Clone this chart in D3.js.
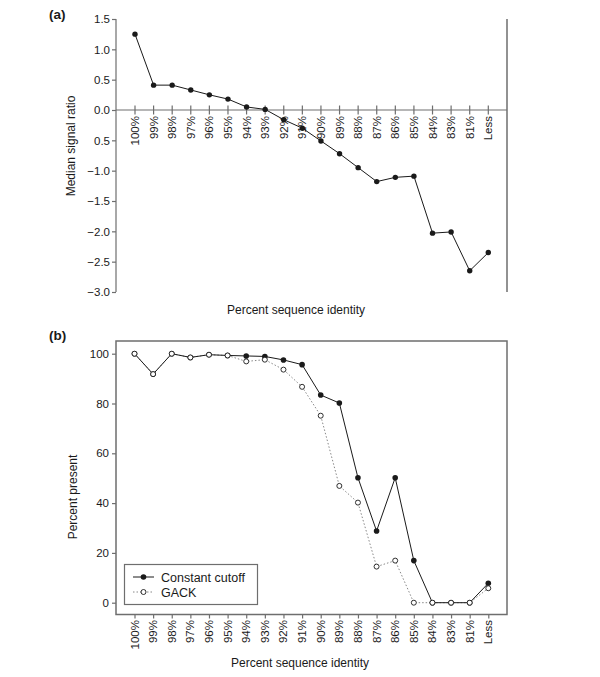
<!DOCTYPE html>
<html>
<head>
<meta charset="utf-8">
<script src="https://cdn.jsdelivr.net/npm/d3@7"></script>
<style>
  body { margin: 0; background: #fff; }
  svg { display: block; font-family: "Liberation Sans", Arial, sans-serif; }
</style>
</head>
<body>
<svg id="chart" width="600" height="677"></svg>
<script>
// ---- data ----
const categories = ["100%","99%","98%","97%","96%","95%","94%","93%","92%","91%","90%","89%","88%","87%","86%","85%","84%","83%","81%","Less"];
const medianSignalRatio = [1.25,0.41,0.41,0.33,0.25,0.18,0.05,0.01,-0.16,-0.30,-0.51,-0.72,-0.95,-1.18,-1.11,-1.09,-2.03,-2.01,-2.65,-2.35];
const constantCutoff = [100,91.8,100,98.5,99.6,99.3,99.1,98.9,97.5,95.6,83.4,80.2,50.2,28.8,50.2,16.9,0,0,0,7.8];
const gack = [100,91.8,100,98.5,99.6,99.3,96.9,97.6,93.6,86.7,75.1,46.9,40.2,14.5,16.9,0,0,0,0,5.8];
const aTickValues = [1.5,1.0,0.5,0.0,-0.5,-1.0,-1.5,-2.0,-2.5,-3.0];
const aTickLabels = ["1.5","1.0","0.5","0.0","0.5","\u22121.0","\u22121.5","\u22122.0","\u22122.5","\u22123.0"];
const bTickValues = [0,20,40,60,80,100];
const seriesNames = ["Constant cutoff","GACK"];

const svg = d3.select("#chart");
const ink = "#1a1a1a", axisCol = "#6e6e6e";

// ---------- Panel (a) ----------
const ax = d3.scalePoint().domain(categories).range([135, 488.3]);
const ay = d3.scaleLinear().domain([-3, 1.5]).range([292, 19]);
const ga = svg.append("g");

ga.append("text").attr("x", 49).attr("y", 19).attr("font-size", 13.5).attr("font-weight", "bold").attr("fill", ink).text("(a)");

// left y axis
const yAxisA = d3.axisLeft(ay).tickValues(aTickValues).tickFormat((d, i) => aTickLabels[i]).tickSize(4).tickPadding(2);
const gya = ga.append("g").attr("transform", "translate(116,0)").call(yAxisA);
gya.select(".domain").attr("stroke", axisCol).attr("stroke-width", 1.2).attr("d", `M0,${ay(1.5)}V${ay(-3)}`);
gya.selectAll(".tick line").attr("stroke", axisCol).attr("stroke-width", 1.2);
gya.selectAll(".tick text").attr("fill", ink).attr("font-size", 11.5).attr("font-family", "Liberation Sans, Arial, sans-serif");

// right vertical line
ga.append("line").attr("x1", 507).attr("x2", 507).attr("y1", ay(1.5)).attr("y2", ay(-3)).attr("stroke", axisCol).attr("stroke-width", 1.5);

// x axis at zero
const gxa = ga.append("g").attr("transform", `translate(0,${ay(0)})`);
gxa.append("line").attr("x1", 116).attr("x2", 507).attr("stroke", axisCol).attr("stroke-width", 1.2);
gxa.selectAll("line.tk").data(categories).join("line").attr("class", "tk")
  .attr("x1", d => ax(d)).attr("x2", d => ax(d)).attr("y1", -4.5).attr("y2", 4.5)
  .attr("stroke", axisCol).attr("stroke-width", 1.2);
gxa.selectAll("text").data(categories).join("text")
  .attr("transform", d => `translate(${ax(d) + 4},6) rotate(-90)`)
  .attr("text-anchor", "end").attr("font-size", 11.5).attr("fill", ink).text(d => d);

// line & points
const lineA = d3.line().x((d, i) => ax(categories[i])).y(d => ay(d));
ga.append("path").datum(medianSignalRatio).attr("d", lineA).attr("fill", "none").attr("stroke", ink).attr("stroke-width", 1);
ga.selectAll("circle").data(medianSignalRatio).join("circle")
  .attr("cx", (d, i) => ax(categories[i])).attr("cy", d => ay(d)).attr("r", 2.7).attr("fill", ink);

ga.append("text").attr("transform", `translate(75,146) rotate(-90)`).attr("text-anchor", "middle")
  .attr("font-size", 12).attr("fill", ink).text("Median signal ratio");
ga.append("text").attr("x", 296).attr("y", 314).attr("text-anchor", "middle")
  .attr("font-size", 12).attr("fill", ink).text("Percent sequence identity");

// ---------- Panel (b) ----------
const bx = d3.scalePoint().domain(categories).range([134.5, 488.3]);
const by = d3.scaleLinear().domain([0, 100]).range([602.7, 353.7]);
const gb = svg.append("g");

gb.append("text").attr("x", 49).attr("y", 340).attr("font-size", 13.5).attr("font-weight", "bold").attr("fill", ink).text("(b)");

gb.append("rect").attr("x", 116).attr("y", 341).attr("width", 391).attr("height", 273.5)
  .attr("fill", "none").attr("stroke", axisCol).attr("stroke-width", 1.5);

const yAxisB = d3.axisLeft(by).tickValues(bTickValues).tickSize(4).tickPadding(3);
const gyb = gb.append("g").attr("transform", "translate(116,0)").call(yAxisB);
gyb.select(".domain").remove();
gyb.selectAll(".tick line").attr("stroke", axisCol).attr("stroke-width", 1.2);
gyb.selectAll(".tick text").attr("fill", ink).attr("font-size", 11.5).attr("font-family", "Liberation Sans, Arial, sans-serif");

const xAxisB = d3.axisBottom(bx).tickSize(4).tickFormat("");
const gxb = gb.append("g").attr("transform", "translate(0,614.5)").call(xAxisB);
gxb.select(".domain").remove();
gxb.selectAll(".tick line").attr("stroke", axisCol).attr("stroke-width", 1.2);
gb.selectAll("text.xl").data(categories).join("text").attr("class", "xl")
  .attr("transform", d => `translate(${bx(d) + 4},620) rotate(-90)`)
  .attr("text-anchor", "end").attr("font-size", 11.5).attr("fill", ink).text(d => d);

const lineB = d3.line().x((d, i) => bx(categories[i])).y(d => by(d));
gb.append("path").datum(gack).attr("d", lineB).attr("fill", "none")
  .attr("stroke", "#888").attr("stroke-width", 1).attr("stroke-dasharray", "1.5,2");
gb.append("path").datum(constantCutoff).attr("d", lineB).attr("fill", "none")
  .attr("stroke", ink).attr("stroke-width", 1);
gb.selectAll("circle.cc").data(constantCutoff).join("circle").attr("class", "cc")
  .attr("cx", (d, i) => bx(categories[i])).attr("cy", d => by(d)).attr("r", 2.8).attr("fill", ink);
gb.selectAll("circle.gk").data(gack).join("circle").attr("class", "gk")
  .attr("cx", (d, i) => bx(categories[i])).attr("cy", d => by(d)).attr("r", 2.5)
  .attr("fill", "#fff").attr("stroke", ink).attr("stroke-width", 0.9);

// legend
const lg = gb.append("g");
lg.append("rect").attr("x", 124.5).attr("y", 564.5).attr("width", 133).attr("height", 40)
  .attr("fill", "#fff").attr("stroke", axisCol).attr("stroke-width", 1.2);
lg.append("line").attr("x1", 133).attr("x2", 154).attr("y1", 577).attr("y2", 577).attr("stroke", ink).attr("stroke-width", 1);
lg.append("circle").attr("cx", 143.5).attr("cy", 577).attr("r", 2.8).attr("fill", ink);
lg.append("line").attr("x1", 133).attr("x2", 154).attr("y1", 592).attr("y2", 592).attr("stroke", "#888").attr("stroke-width", 1).attr("stroke-dasharray", "1.5,2");
lg.append("circle").attr("cx", 143.5).attr("cy", 592).attr("r", 2.5).attr("fill", "#fff").attr("stroke", ink).attr("stroke-width", 0.9);
lg.selectAll("text").data(seriesNames).join("text")
  .attr("x", 161).attr("y", (d, i) => 581.5 + i * 15).attr("font-size", 12.5).attr("fill", ink).text(d => d);

gb.append("text").attr("transform", `translate(77,497) rotate(-90)`).attr("text-anchor", "middle")
  .attr("font-size", 12).attr("fill", ink).text("Percent present");
gb.append("text").attr("x", 300).attr("y", 667).attr("text-anchor", "middle")
  .attr("font-size", 12).attr("fill", ink).text("Percent sequence identity");
</script>
</body>
</html>
